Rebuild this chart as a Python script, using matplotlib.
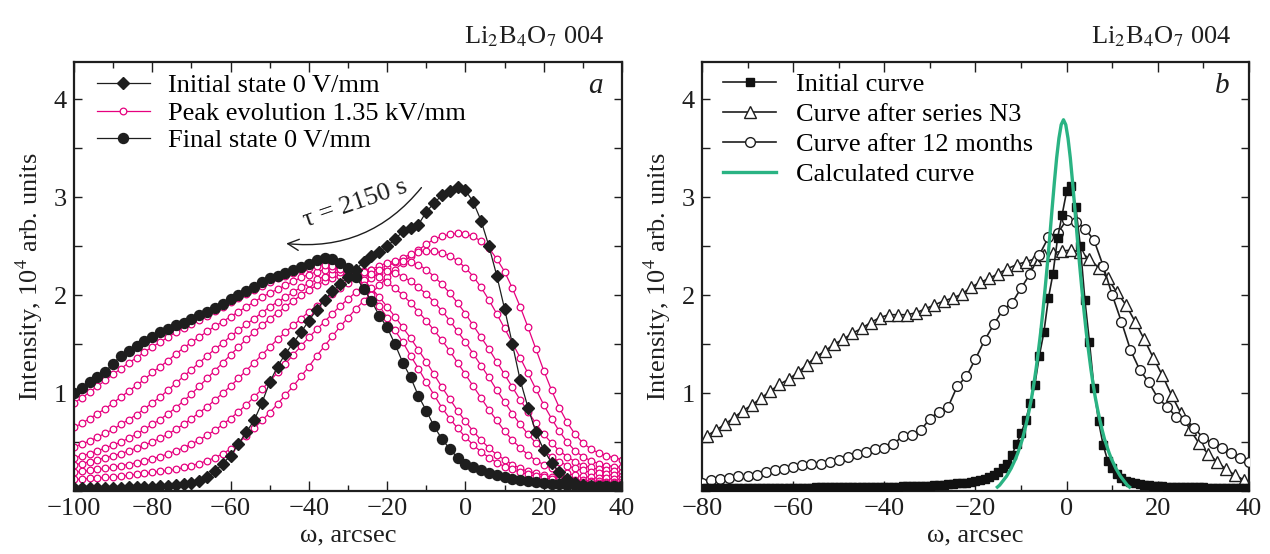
import numpy as np
import matplotlib
matplotlib.use("Agg")
from matplotlib import pyplot as plt
from matplotlib.ticker import MultipleLocator

plt.rcParams["font.family"] = ["Liberation Serif", "DejaVu Serif"]
plt.rcParams["mathtext.fontset"] = "stix"
plt.rcParams["font.size"] = 19

# ---------------- panel a: peak evolution under field ----------------
omega_a = np.arange(-100, 41, 2)

initial_a = [
    0.03, 0.03, 0.03, 0.03, 0.03, 0.03, 0.03, 0.04, 0.04, 0.04,
    0.04, 0.05, 0.05, 0.06, 0.07, 0.08, 0.10, 0.14, 0.20, 0.28,
    0.36, 0.48, 0.60, 0.72, 0.90, 1.11, 1.27, 1.40, 1.51, 1.62,
    1.74, 1.85, 1.95, 2.04, 2.11, 2.19, 2.26, 2.34, 2.40, 2.44,
    2.50, 2.57, 2.65, 2.69, 2.72, 2.85, 2.94, 3.02, 3.06, 3.10,
    3.07, 2.95, 2.76, 2.50, 2.20, 1.86, 1.50, 1.13, 0.85, 0.60,
    0.42, 0.29, 0.19, 0.12, 0.08, 0.06, 0.05, 0.04, 0.04, 0.04,
    0.04,
]

final_a = [
    1.00, 1.05, 1.11, 1.16, 1.22, 1.30, 1.38, 1.43, 1.48, 1.53,
    1.57, 1.62, 1.65, 1.69, 1.72, 1.76, 1.80, 1.83, 1.87, 1.91,
    1.96, 2.00, 2.04, 2.08, 2.13, 2.17, 2.20, 2.23, 2.26, 2.29,
    2.32, 2.36, 2.38, 2.37, 2.33, 2.28, 2.19, 2.06, 1.94, 1.79,
    1.67, 1.50, 1.31, 1.16, 0.97, 0.82, 0.66, 0.53, 0.43, 0.34,
    0.28, 0.24, 0.21, 0.18, 0.16, 0.14, 0.12, 0.11, 0.10, 0.09,
    0.08, 0.07, 0.07, 0.06, 0.06, 0.05, 0.05, 0.05, 0.05, 0.05,
    0.05,
]

evo_1 = [
    0.12, 0.12, 0.13, 0.13, 0.14, 0.14, 0.15, 0.16, 0.17, 0.18,
    0.19, 0.20, 0.21, 0.22, 0.24, 0.26, 0.28, 0.31, 0.34, 0.38,
    0.43, 0.49, 0.56, 0.64, 0.72, 0.80, 0.89, 0.98, 1.07, 1.17,
    1.27, 1.38, 1.48, 1.58, 1.68, 1.77, 1.86, 1.94, 2.02, 2.10,
    2.18, 2.26, 2.33, 2.40, 2.46, 2.52, 2.57, 2.60, 2.62, 2.63,
    2.62, 2.60, 2.55, 2.48, 2.37, 2.24, 2.07, 1.88, 1.67, 1.45,
    1.23, 1.03, 0.85, 0.70, 0.58, 0.49, 0.43, 0.39, 0.36, 0.34,
    0.32,
]
evo_2 = [
    0.19, 0.20, 0.21, 0.22, 0.23, 0.24, 0.26, 0.27, 0.29, 0.31,
    0.33, 0.35, 0.38, 0.41, 0.44, 0.48, 0.52, 0.57, 0.62, 0.68,
    0.74, 0.81, 0.88, 0.96, 1.04, 1.12, 1.21, 1.30, 1.39, 1.48,
    1.57, 1.65, 1.73, 1.81, 1.89, 1.96, 2.03, 2.10, 2.17, 2.23,
    2.29, 2.34, 2.38, 2.42, 2.44, 2.45, 2.45, 2.43, 2.40, 2.35,
    2.28, 2.19, 2.08, 1.95, 1.81, 1.66, 1.51, 1.36, 1.20, 1.04,
    0.88, 0.74, 0.61, 0.50, 0.41, 0.35, 0.31, 0.28, 0.26, 0.25,
    0.24,
]
evo_3 = [
    0.27, 0.28, 0.30, 0.32, 0.34, 0.36, 0.38, 0.41, 0.44, 0.47,
    0.50, 0.54, 0.58, 0.63, 0.68, 0.74, 0.80, 0.86, 0.93, 1.00,
    1.07, 1.15, 1.23, 1.31, 1.39, 1.47, 1.55, 1.62, 1.69, 1.76,
    1.83, 1.89, 1.95, 2.01, 2.07, 2.12, 2.17, 2.22, 2.26, 2.30,
    2.33, 2.35, 2.35, 2.34, 2.31, 2.26, 2.19, 2.11, 2.02, 1.92,
    1.81, 1.69, 1.57, 1.45, 1.32, 1.19, 1.06, 0.93, 0.81, 0.69,
    0.58, 0.49, 0.41, 0.35, 0.30, 0.26, 0.24, 0.22, 0.21, 0.20,
    0.19,
]
evo_4 = [
    0.34, 0.36, 0.38, 0.41, 0.44, 0.47, 0.50, 0.54, 0.58, 0.63,
    0.68, 0.73, 0.79, 0.85, 0.92, 0.99, 1.07, 1.15, 1.23, 1.31,
    1.39, 1.47, 1.55, 1.62, 1.69, 1.76, 1.82, 1.88, 1.94, 2.00,
    2.05, 2.10, 2.14, 2.17, 2.20, 2.22, 2.24, 2.25, 2.26, 2.26,
    2.25, 2.23, 2.19, 2.14, 2.08, 2.01, 1.93, 1.84, 1.74, 1.63,
    1.52, 1.40, 1.28, 1.16, 1.03, 0.91, 0.79, 0.68, 0.58, 0.49,
    0.41, 0.35, 0.30, 0.26, 0.23, 0.21, 0.19, 0.18, 0.17, 0.16,
    0.15,
]
evo_5 = [
    0.45, 0.48, 0.51, 0.55, 0.59, 0.63, 0.68, 0.73, 0.78, 0.84,
    0.90, 0.96, 1.03, 1.10, 1.17, 1.24, 1.31, 1.38, 1.45, 1.51,
    1.58, 1.64, 1.70, 1.76, 1.82, 1.88, 1.93, 1.98, 2.03, 2.08,
    2.12, 2.16, 2.19, 2.22, 2.24, 2.25, 2.25, 2.24, 2.22, 2.18,
    2.13, 2.07, 2.00, 1.92, 1.83, 1.74, 1.64, 1.54, 1.43, 1.31,
    1.19, 1.07, 0.95, 0.83, 0.72, 0.61, 0.52, 0.44, 0.37, 0.31,
    0.27, 0.23, 0.20, 0.18, 0.16, 0.15, 0.14, 0.13, 0.13, 0.12,
    0.12,
]
evo_6 = [
    0.65, 0.69, 0.74, 0.79, 0.84, 0.90, 0.96, 1.02, 1.08, 1.14,
    1.21, 1.27, 1.33, 1.40, 1.46, 1.52, 1.57, 1.63, 1.68, 1.73,
    1.78, 1.83, 1.88, 1.93, 1.98, 2.02, 2.06, 2.10, 2.14, 2.18,
    2.21, 2.24, 2.26, 2.27, 2.27, 2.25, 2.21, 2.15, 2.07, 1.98,
    1.88, 1.78, 1.67, 1.56, 1.44, 1.32, 1.19, 1.06, 0.94, 0.82,
    0.71, 0.61, 0.52, 0.44, 0.37, 0.32, 0.27, 0.23, 0.20, 0.18,
    0.16, 0.14, 0.13, 0.12, 0.11, 0.11, 0.10, 0.10, 0.09, 0.09,
    0.09,
]
evo_7 = [
    0.90, 0.95, 1.01, 1.07, 1.13, 1.19, 1.25, 1.31, 1.36, 1.42,
    1.47, 1.52, 1.57, 1.62, 1.66, 1.71, 1.75, 1.79, 1.84, 1.88,
    1.93, 1.97, 2.01, 2.05, 2.09, 2.13, 2.17, 2.20, 2.23, 2.26,
    2.28, 2.30, 2.31, 2.30, 2.27, 2.24, 2.18, 2.10, 2.00, 1.89,
    1.77, 1.64, 1.52, 1.38, 1.25, 1.11, 0.98, 0.85, 0.74, 0.64,
    0.55, 0.47, 0.40, 0.34, 0.29, 0.25, 0.22, 0.19, 0.17, 0.15,
    0.14, 0.12, 0.11, 0.10, 0.10, 0.09, 0.09, 0.08, 0.08, 0.08,
    0.07,
]
evolution_a = [evo_1, evo_2, evo_3, evo_4, evo_5, evo_6, evo_7]

# ---------------- panel b: aging of the curve ----------------
omega_init_b = np.arange(-80, 41, 1)
initial_b = [
    0.03, 0.03, 0.03, 0.03, 0.03, 0.03, 0.03, 0.03, 0.03, 0.03,
    0.03, 0.03, 0.03, 0.03, 0.03, 0.03, 0.03, 0.03, 0.03, 0.03,
    0.03, 0.03, 0.03, 0.03, 0.03, 0.04, 0.04, 0.04, 0.04, 0.04,
    0.04, 0.04, 0.04, 0.04, 0.04, 0.04, 0.04, 0.04, 0.04, 0.04,
    0.04, 0.04, 0.04, 0.04, 0.05, 0.05, 0.05, 0.05, 0.05, 0.05,
    0.05, 0.06, 0.06, 0.06, 0.07, 0.07, 0.08, 0.08, 0.08, 0.09,
    0.10, 0.11, 0.12, 0.14, 0.16, 0.19, 0.23, 0.28, 0.37, 0.48,
    0.59, 0.72, 0.90, 1.08, 1.38, 1.62, 1.97, 2.22, 2.58, 2.82,
    3.06, 3.11, 2.90, 2.50, 1.95, 1.52, 1.05, 0.71, 0.47, 0.31,
    0.23, 0.17, 0.13, 0.10, 0.09, 0.08, 0.07, 0.06, 0.06, 0.05,
    0.05, 0.05, 0.04, 0.04, 0.04, 0.04, 0.04, 0.04, 0.04, 0.04,
    0.04, 0.03, 0.03, 0.03, 0.03, 0.03, 0.03, 0.03, 0.03, 0.03,
    0.03,
]

omega_n3_b = np.arange(-79, 40, 2)
series_n3_b = [
    0.56, 0.62, 0.68, 0.75, 0.82, 0.88, 0.95, 1.02, 1.09, 1.14,
    1.21, 1.29, 1.37, 1.43, 1.50, 1.55, 1.61, 1.66, 1.72, 1.77,
    1.80, 1.80, 1.80, 1.82, 1.86, 1.90, 1.94, 1.97, 2.01, 2.08,
    2.13, 2.17, 2.22, 2.27, 2.31, 2.34, 2.37, 2.41, 2.43, 2.45,
    2.46, 2.44, 2.37, 2.28, 2.17, 2.03, 1.90, 1.73, 1.55, 1.36,
    1.18, 0.98, 0.80, 0.63, 0.49, 0.38, 0.30, 0.22, 0.16, 0.11,
]

omega_12m_b = np.arange(-80, 41, 2)
months12_b = [
    0.08, 0.11, 0.12, 0.13, 0.15, 0.15, 0.16, 0.19, 0.21, 0.22,
    0.25, 0.27, 0.28, 0.28, 0.30, 0.32, 0.35, 0.38, 0.40, 0.43,
    0.44, 0.48, 0.56, 0.57, 0.62, 0.74, 0.81, 0.86, 1.07, 1.17,
    1.35, 1.54, 1.70, 1.85, 1.92, 2.07, 2.22, 2.41, 2.59, 2.63,
    2.77, 2.75, 2.68, 2.56, 2.30, 2.00, 1.73, 1.44, 1.24, 1.11,
    0.95, 0.86, 0.76, 0.73, 0.64, 0.54, 0.49, 0.44, 0.39, 0.34,
    0.30,
]

omega_calc_b = np.arange(-15.2, 13.81, 0.5)
calculated_b = [
    0.04, 0.06, 0.09, 0.12, 0.15, 0.19, 0.23, 0.28, 0.33, 0.39,
    0.46, 0.53, 0.62, 0.72, 0.83, 0.95, 1.09, 1.25, 1.43, 1.62,
    1.84, 2.08, 2.33, 2.60, 2.88, 3.15, 3.40, 3.60, 3.74, 3.79,
    3.74, 3.60, 3.40, 3.15, 2.88, 2.60, 2.33, 2.08, 1.84, 1.62,
    1.43, 1.25, 1.09, 0.95, 0.83, 0.72, 0.62, 0.53, 0.46, 0.39,
    0.33, 0.28, 0.23, 0.19, 0.15, 0.12, 0.09, 0.06, 0.04,
]

PINK = "#e6007e"
GREEN = "#2ab383"
INK = "#1e1e1e"


def style_axis(ax, xlim, panel_letter):
    ax.set_xlim(*xlim)
    ax.set_ylim(0, 4.38)
    ax.xaxis.set_major_locator(MultipleLocator(20))
    ax.xaxis.set_minor_locator(MultipleLocator(10))
    ax.yaxis.set_major_locator(MultipleLocator(1))
    ax.yaxis.set_minor_locator(MultipleLocator(0.5))
    ax.set_yticks([1, 2, 3, 4])
    ax.tick_params(which="both", direction="in", top=True, right=True, width=1.0,
                   labelsize=19, colors=INK)
    ax.tick_params(axis="x", which="major", length=7, pad=5)
    ax.tick_params(axis="x", which="minor", length=4)
    ax.tick_params(axis="y", which="both", length=6, pad=5)
    for spine in ax.spines.values():
        spine.set_linewidth(1.6)
        spine.set_color(INK)
    ax.set_xlabel("ω, arcsec", fontsize=19, labelpad=3, color=INK)
    ax.set_ylabel("Intensity, 10$^{4}$ arb. units", fontsize=19, labelpad=6, color=INK)
    ax.text(0.968, 1.03, "Li$_2$B$_4$O$_7$ 004", transform=ax.transAxes,
            ha="right", va="bottom", fontsize=19, color=INK)
    ax.text(0.965, 0.945, panel_letter, transform=ax.transAxes,
            ha="right", va="center", fontsize=21, style="italic", color=INK)


fig = plt.figure(figsize=(12.7, 5.54), dpi=100)
fig.patch.set_facecolor("white")
ax_a = fig.add_axes([74 / 1270, 63 / 554, 548 / 1270, 429 / 554])
ax_b = fig.add_axes([702 / 1270, 63 / 554, 547 / 1270, 429 / 554])

# panel a
for idx, values in enumerate(evolution_a):
    ax_a.plot(omega_a, values, color=PINK, linewidth=0.9, marker="o", markersize=4.8,
              markerfacecolor="white", markeredgecolor=PINK, markeredgewidth=0.9,
              label="Peak evolution 1.35 kV/mm" if idx == 0 else None, zorder=2)
ax_a.plot(omega_a, initial_a, color=INK, linewidth=0.9, marker="D", markersize=6.2,
          markerfacecolor=INK, markeredgecolor=INK, label="Initial state 0 V/mm", zorder=3)
ax_a.plot(omega_a, final_a, color=INK, linewidth=0.9, marker="o", markersize=7.2,
          markerfacecolor=INK, markeredgecolor=INK, label="Final state 0 V/mm", zorder=4)

handles, labels = ax_a.get_legend_handles_labels()
order = [labels.index("Initial state 0 V/mm"), labels.index("Peak evolution 1.35 kV/mm"),
         labels.index("Final state 0 V/mm")]
ax_a.legend([handles[i] for i in order], [labels[i] for i in order], loc="upper left",
            frameon=False, fontsize=19, handlelength=2.0, labelspacing=0.15,
            borderaxespad=0.05, handletextpad=0.7, bbox_to_anchor=(0.02, 1.0))

ax_a.annotate("", xy=(-46.5, 2.53), xytext=(-10.8, 3.12),
              arrowprops=dict(arrowstyle="->", color=INK, linewidth=1.0,
                              connectionstyle="arc3,rad=-0.28", mutation_scale=20))
ax_a.text(-28.0, 2.93, "τ = 2150 s", rotation=19, ha="center", va="center",
          fontsize=19, color=INK)
style_axis(ax_a, (-100, 40), "a")

# panel b
line_kw = dict(color=INK, linewidth=1.2)
ax_b.plot(omega_init_b, initial_b, marker="s", markersize=5.8, markerfacecolor="#111111",
          markeredgecolor="#111111", label="Initial curve", zorder=4, **line_kw)
ax_b.plot(omega_n3_b, series_n3_b, marker="^", markersize=8.5, markerfacecolor="white",
          markeredgecolor=INK, markeredgewidth=1.0, label="Curve after series N3", zorder=2, **line_kw)
ax_b.plot(omega_12m_b, months12_b, marker="o", markersize=7.0, markerfacecolor="white",
          markeredgecolor=INK, markeredgewidth=1.0, label="Curve after 12 months", zorder=3, **line_kw)
ax_b.plot(omega_calc_b, calculated_b, color=GREEN, linewidth=2.4, label="Calculated curve", zorder=5)
ax_b.legend(loc="upper left", frameon=False, fontsize=19, handlelength=2.0, labelspacing=0.25,
            borderaxespad=0.0, handletextpad=0.75, bbox_to_anchor=(0.02, 1.0))
style_axis(ax_b, (-80, 40), "b")

fig.savefig("out.png", dpi=100)
plt.close(fig)
